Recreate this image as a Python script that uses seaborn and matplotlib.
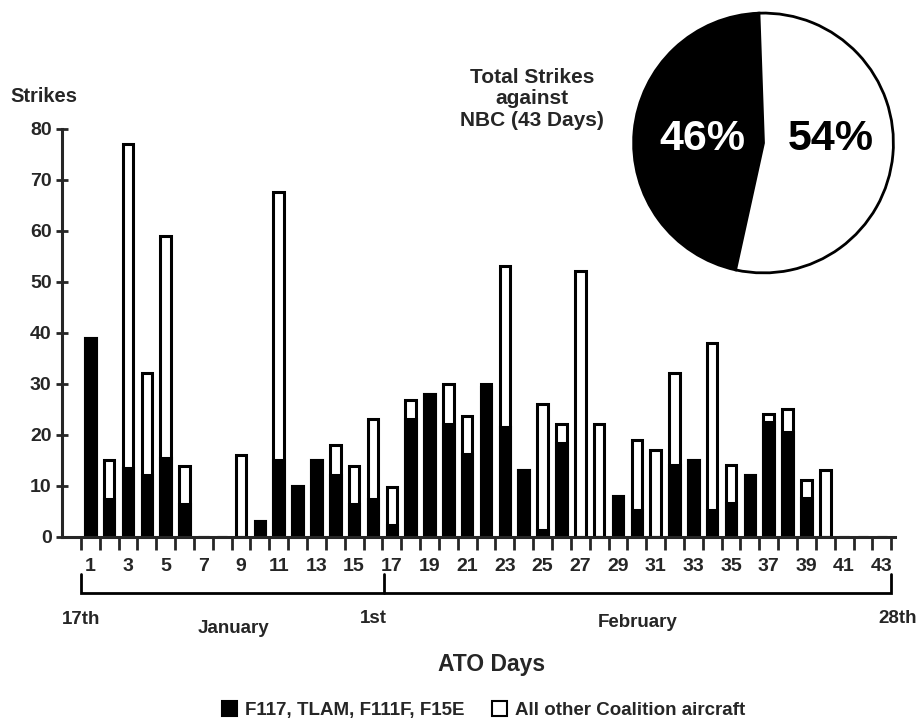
import numpy as np
import pandas as pd
import matplotlib
matplotlib.use("Agg")
import matplotlib.pyplot as plt
import seaborn as sns
from matplotlib.patches import Patch

# ---------------- data ----------------
days = list(range(1, 44))
f117_group = [39, 7.3, 13.5, 12, 15.5, 6.4, 0, 0, 0, 3, 15, 10, 15, 12, 6.5, 7.3, 2.2,
              23, 28, 22, 16.3, 29.3, 21.5, 13, 1.3, 18.4, 0, 0, 8, 5.3, 0, 14, 15,
              5.3, 6.6, 12, 22.5, 20.6, 7.5, 0, 0, 0, 0]
total_strikes = [39, 15, 77, 32, 59, 13.8, 0, 0, 16, 3, 67.5, 10, 15, 18, 13.8, 23, 9.8,
                 26.8, 28, 30, 23.7, 30, 53, 13, 26, 22, 52, 22, 8, 19, 17, 32, 15,
                 38, 14, 12, 24, 25, 11.2, 13, 0, 0, 0]
series_names = ["F117, TLAM, F111F, F15E", "All other Coalition aircraft"]
pie_shares = [46, 54]
pie_labels = ["46%", "54%"]
y_ticks = [0, 10, 20, 30, 40, 50, 60, 70, 80]
x_tick_days = list(range(1, 44, 2))
date_marks = ["17th", "1st", "28th"]
month_names = ["January", "February"]

df = pd.DataFrame({"day": days, "f117": f117_group, "total": total_strikes})

# ---------------- style ----------------
sns.set_style("ticks")
plt.rcParams['font.family'] = ['Liberation Sans', 'DejaVu Sans']
plt.rcParams['font.weight'] = 'bold'

W, H = 920, 723
fig = plt.figure(figsize=(W / 100, H / 100), dpi=100)

def fx(px):
    return px / W

def fy(py):
    return 1 - py / H

ax = fig.add_axes([fx(62), fy(536.7), fx(895) - fx(62), (536.7 - 128.5) / H])

sns.barplot(data=df, x="day", y="total", native_scale=True, color="white",
            edgecolor="black", linewidth=2.2, width=0.56, errorbar=None,
            saturation=1, ax=ax)
sns.barplot(data=df, x="day", y="f117", native_scale=True, color="black",
            edgecolor="black", linewidth=2.2, width=0.56, errorbar=None,
            saturation=1, ax=ax)

ax.set_xlim(-0.5, 43.7)
ax.set_ylim(0, 80)
ax.set_xlabel("")
ax.set_ylabel("")
sns.despine(ax=ax)
ax.spines['left'].set_linewidth(2.2)
ax.spines['bottom'].set_linewidth(2.2)

ax.set_yticks(y_ticks)
ax.set_yticklabels([str(v) for v in y_ticks], fontsize=14, fontweight='bold')
ax.tick_params(axis='y', direction='inout', length=9, width=2, pad=3)

ax.set_xticks(x_tick_days)
ax.set_xticklabels([str(d) for d in x_tick_days], fontsize=14, fontweight='bold')
ax.tick_params(axis='x', which='major', length=0, pad=15)
ax.set_xticks(np.arange(0.5, 44, 1), minor=True)
ax.tick_params(axis='x', which='minor', direction='out', length=9, width=2)

# bracket below axis
ax.plot([0.5, 0.5, 43.5, 43.5], [-7.3, -11.1, -11.1, -7.3], color='black', lw=2,
        clip_on=False, solid_joinstyle='miter')
ax.plot([16.6, 16.6], [-7.3, -11.1], color='black', lw=2, clip_on=False)

tk = dict(ha='center', va='center', fontsize=13.5, fontweight='bold', clip_on=False)
ax.text(0.52, -16.2, date_marks[0], **tk)
ax.text(16.0, -16.0, date_marks[1], **tk)
ax.text(43.84, -16.0, date_marks[2], **tk)
ax.text(8.6, -17.9, month_names[0], **tk)
ax.text(30.06, -16.8, month_names[1], **tk)

fig.text(fx(44), fy(97), "Strikes", ha='center', va='center', fontsize=14.5,
         fontweight='bold')
fig.text(fx(492), fy(665), "ATO Days", ha='center', va='center', fontsize=16.5,
         fontweight='bold')
fig.text(fx(532), fy(99), "Total Strikes\nagainst\nNBC (43 Days)", ha='center',
         va='center', fontsize=15, fontweight='bold', linespacing=1.15)

# legend
handles = [Patch(facecolor='black', edgecolor='black', linewidth=1.5),
           Patch(facecolor='white', edgecolor='black', linewidth=1.5)]
fig.legend(handles=handles, labels=series_names, loc='center',
           bbox_to_anchor=(fx(483.5), fy(710)), ncol=2, frameon=False,
           handlelength=0.8, handleheight=0.8, handletextpad=0.4,
           columnspacing=1.5, prop=dict(weight='bold', size=13.5))

# pie
pie_ax = fig.add_axes([fx(631), fy(275.5), 265 / W, 265 / H])
pie_ax.pie(pie_shares, colors=['black', 'white'], startangle=92, counterclock=True,
           wedgeprops=dict(edgecolor='black', linewidth=2))
pie_ax.set_xlim(-1.02, 1.02)
pie_ax.set_ylim(-1.02, 1.02)
pie_ax.set_aspect('equal')
pie_ax.text(-0.47, 0.03, pie_labels[0], color='white', ha='center', va='center',
            fontsize=31, fontweight='bold')
pie_ax.text(0.52, 0.03, pie_labels[1], color='black', ha='center', va='center',
            fontsize=31, fontweight='bold')

fig.savefig("out.png", dpi=100)
